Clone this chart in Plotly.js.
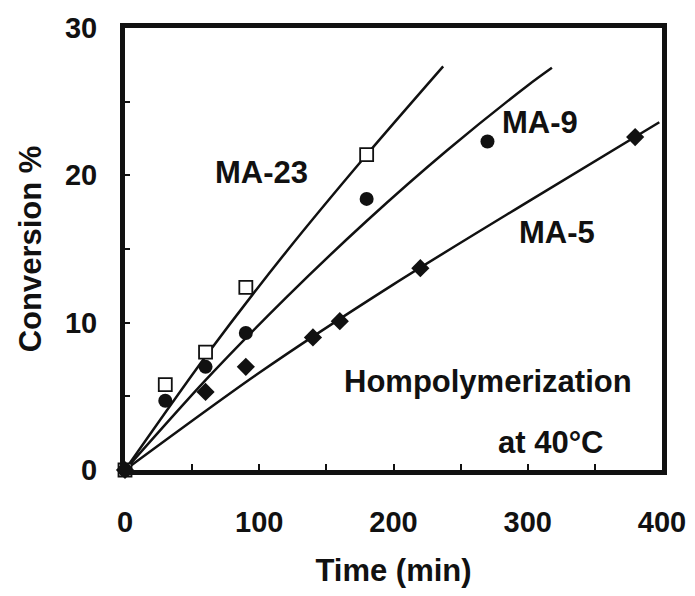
<!DOCTYPE html>
<html>
<head>
<meta charset="utf-8">
<script src="https://cdn.plot.ly/plotly-3.0.1.min.js"></script>
<style>html,body{margin:0;padding:0;background:#fff;}#chart{width:695px;height:596px;}</style>
</head>
<body>
<div id="chart"></div>
<script>
// Measured points
const timeMA23 = [0, 30, 60, 90, 180];
const convMA23 = [0, 5.8, 8.0, 12.4, 21.4];
const timeMA9 = [0, 30, 60, 90, 180, 270];
const convMA9 = [0, 4.7, 7.0, 9.3, 18.4, 22.3];
const timeMA5 = [0, 60, 90, 140, 160, 220, 380];
const convMA5 = [0, 5.3, 7.0, 9.0, 10.1, 13.7, 22.6];

// Fitted curves
const fitTimeMA23 = [0, 60, 120, 180, 237];
const fitConvMA23 = [0, 7.7, 14.8, 21.4, 27.4];
const fitTimeMA9 = [0, 60, 120, 180, 240, 300, 318];
const fitConvMA9 = [0, 6.1, 11.7, 16.9, 21.7, 26.1, 27.3];
const fitTimeMA5 = [0, 100, 200, 300, 398];
const fitConvMA5 = [0, 6.6, 12.6, 18.2, 23.6];

const xTicks = [0, 100, 200, 300, 400];
const yTicks = [0, 10, 20, 30];

const FONT = 'Liberation Sans, Arial, sans-serif';
const lineStyle = {color: '#111', width: 2.5, shape: 'spline', smoothing: 0.8};

const traces = [
  {x: fitTimeMA23, y: fitConvMA23, mode: 'lines', line: lineStyle, hoverinfo: 'skip'},
  {x: fitTimeMA9, y: fitConvMA9, mode: 'lines', line: lineStyle, hoverinfo: 'skip'},
  {x: fitTimeMA5, y: fitConvMA5, mode: 'lines', line: lineStyle, hoverinfo: 'skip'},
  {x: timeMA23, y: convMA23, mode: 'markers', name: 'MA-23',
   marker: {symbol: 'square', size: 13, color: '#fff', line: {width: 1.8, color: '#111'}}},
  {x: timeMA9, y: convMA9, mode: 'markers', name: 'MA-9',
   marker: {symbol: 'circle', size: 14, color: '#111', line: {width: 0}}},
  {x: timeMA5, y: convMA5, mode: 'markers', name: 'MA-5',
   marker: {symbol: 'diamond', size: 14, color: '#111', line: {width: 0}}}
];

const ann = (text, x, y) => ({text, x, y, xref: 'x', yref: 'y', showarrow: false,
  font: {family: FONT, size: 31, color: '#111', weight: 700}});

const layout = {
  width: 695, height: 596,
  margin: {l: 125, r: 33, t: 28, b: 126},
  paper_bgcolor: '#fff', plot_bgcolor: '#fff',
  showlegend: false,
  font: {family: FONT, color: '#111', size: 29, weight: 700},
  xaxis: {
    range: [0, 400], showgrid: false, zeroline: false,
    showline: true, linecolor: '#111', linewidth: 5, mirror: true,
    tickmode: 'array', tickvals: xTicks, ticktext: xTicks.map(String),
    ticks: 'inside', ticklen: 6, tickwidth: 2, tickcolor: '#111',
    minor: {dtick: 50, ticks: 'inside', ticklen: 6, tickwidth: 2, tickcolor: '#111'},
    ticklabelstandoff: 22,
    tickfont: {family: FONT, size: 29, color: '#111', weight: 700},
    title: {text: 'Time (min)', standoff: 24, font: {family: FONT, size: 31, color: '#111', weight: 700}}
  },
  yaxis: {
    range: [0, 30], showgrid: false, zeroline: false,
    showline: true, linecolor: '#111', linewidth: 5, mirror: true,
    tickmode: 'array', tickvals: yTicks, ticktext: yTicks.map(String),
    ticks: 'inside', ticklen: 5, tickwidth: 2, tickcolor: '#111',
    minor: {dtick: 5, ticks: 'inside', ticklen: 5, tickwidth: 2, tickcolor: '#111'},
    ticklabelstandoff: 17,
    tickfont: {family: FONT, size: 29, color: '#111', weight: 700},
    title: {text: 'Conversion %', standoff: 16, font: {family: FONT, size: 31, color: '#111', weight: 700}}
  },
  annotations: [
    ann('MA-23', 102, 20.2),
    ann('MA-9', 309, 23.6),
    ann('MA-5', 321.6, 16.1),
    ann('Hompolymerization', 270.6, 6.0),
    ann('at 40°C', 316.6, 1.85)
  ]
};

traces.forEach(t => { t.cliponaxis = false; });
Plotly.newPlot('chart', traces, layout, {displayModeBar: false, staticPlot: true});
</script>
</body>
</html>
